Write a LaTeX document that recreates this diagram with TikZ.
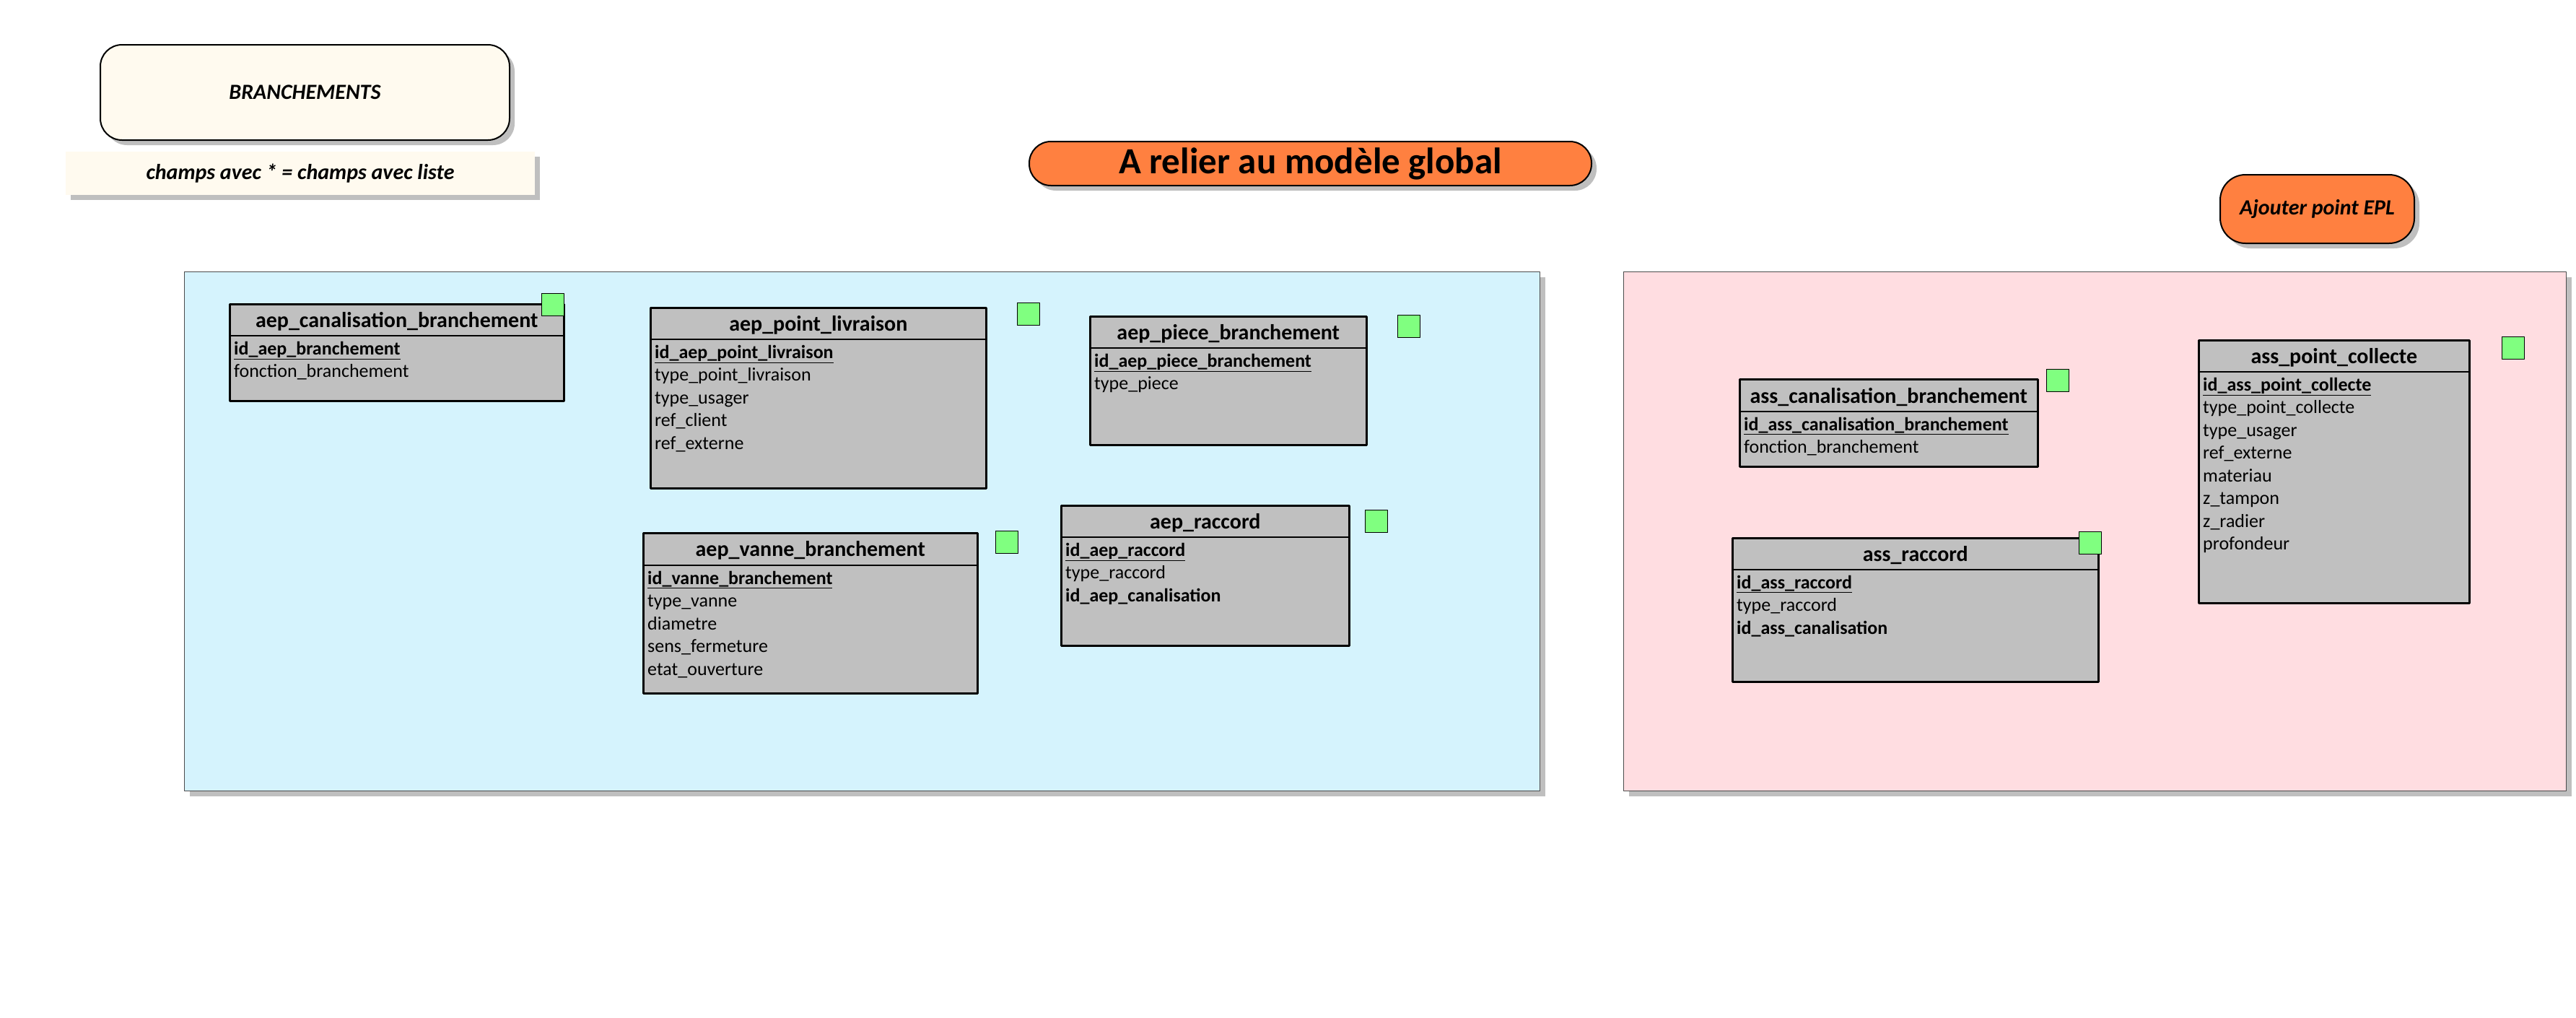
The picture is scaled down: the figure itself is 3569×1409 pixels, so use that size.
\documentclass[tikz,border=0pt]{standalone}
\usepackage{fontspec}
\setmainfont{Carlito}
\usetikzlibrary{shadows}

\definecolor{zoneaep}{HTML}{D5F3FD}
\definecolor{zoneass}{HTML}{FFDDE1}
\definecolor{tablegris}{HTML}{C0C0C0}
\definecolor{clevert}{HTML}{80FF80}
\definecolor{creme}{HTML}{FFFAEF}
\definecolor{orangemodele}{HTML}{FF8040}
\definecolor{ombre}{HTML}{BFBFBF}

\tikzset{
  ombree/.style={drop shadow={shadow xshift=7pt, shadow yshift=-7pt, fill=ombre, opacity=1}},
  zone/.style={draw=black!70, line width=1.2pt, anchor=north west, inner sep=0, ombree},
  tablebox/.style={draw, line width=2.5pt, fill=tablegris, anchor=north west, inner sep=0},
  headtext/.style={font=\fontsize{30}{35}\selectfont\bfseries},
  fieldtext/.style={anchor=north west, align=left, inner sep=0, font=\fontsize{26}{31.5}\selectfont},
  keysq/.style={draw, line width=1pt, fill=clevert, minimum size=31pt, inner sep=0, anchor=north west},
  titrebox/.style={draw, line width=2pt, inner sep=0, ombree},
}

\begin{document}
\begin{tikzpicture}[x=1pt, y=-1pt, line join=round]
  \useasboundingbox[fill=white] (0,0) rectangle (3569,1409);

  % Title boxes
  \node[titrebox, fill=creme, rounded corners=30pt, minimum width=567pt, minimum height=132pt,
        font=\fontsize{30}{36}\selectfont\bfseries\itshape] (titre) at (422.5,128) {BRANCHEMENTS};
  \node[fill=creme, inner sep=0, ombree, minimum width=650pt, minimum height=60pt,
        font=\fontsize{30}{35}\selectfont\bfseries\itshape] (legende) at (416,240) {champs avec * = champs avec liste};
  \node[titrebox, fill=orangemodele, rounded corners=30pt, minimum width=779pt, minimum height=61pt,
        font=\fontsize{51}{58}\selectfont\bfseries] (relier) at (1815.5,226.5) {A relier au modèle global};
  \node[titrebox, fill=orangemodele, rounded corners=35pt, minimum width=269pt, minimum height=95pt,
        font=\fontsize{30}{35}\selectfont\bfseries\itshape] (epl) at (3210.5,289.5) {Ajouter point EPL};

  % Zones
  \node[zone, fill=zoneaep, minimum width=1878pt, minimum height=719pt] (aep) at (255,376) {};
  \node[zone, fill=zoneass, minimum width=1306pt, minimum height=719pt] (ass) at (2249,376) {};

  % aep_canalisation_branchement
  \node[tablebox, minimum width=463pt, minimum height=134pt] (canal) at (317,420) {};
  \draw[line width=2.5pt] ([yshift=-45pt]canal.north west) -- ([yshift=-45pt]canal.north east);
  \node[headtext] at ([yshift=-25pt]canal.north) {aep\_canalisation\_branchement};
  \node[fieldtext] at ([xshift=7pt, yshift=-53pt]canal.north west)
    {\underline{\textbf{id\_aep\_branchement}}\\ fonction\_branchement};
  \node[keysq] (kcanal) at (750,406) {};

  % aep_point_livraison
  \node[tablebox, minimum width=465pt, minimum height=250pt] (plivr) at (900,425) {};
  \draw[line width=2.5pt] ([yshift=-45pt]plivr.north west) -- ([yshift=-45pt]plivr.north east);
  \node[headtext] at ([yshift=-25pt]plivr.north) {aep\_point\_livraison};
  \node[fieldtext] at ([xshift=7pt, yshift=-53pt]plivr.north west)
    {\underline{\textbf{id\_aep\_point\_livraison}}\\ type\_point\_livraison\\ type\_usager\\ ref\_client\\ ref\_externe};
  \node[keysq] (kplivr) at (1409,419) {};

  % aep_piece_branchement
  \node[tablebox, minimum width=383pt, minimum height=178pt] (piece) at (1509,437) {};
  \draw[line width=2.5pt] ([yshift=-45pt]piece.north west) -- ([yshift=-45pt]piece.north east);
  \node[headtext] at ([yshift=-25pt]piece.north) {aep\_piece\_branchement};
  \node[fieldtext] at ([xshift=7pt, yshift=-53pt]piece.north west)
    {\underline{\textbf{id\_aep\_piece\_branchement}}\\ type\_piece};
  \node[keysq] (kpiece) at (1936,436) {};

  % aep_vanne_branchement
  \node[tablebox, minimum width=463pt, minimum height=222pt] (vanne) at (890,737) {};
  \draw[line width=2.5pt] ([yshift=-46pt]vanne.north west) -- ([yshift=-46pt]vanne.north east);
  \node[headtext] at ([yshift=-25pt]vanne.north) {aep\_vanne\_branchement};
  \node[fieldtext] at ([xshift=7pt, yshift=-54pt]vanne.north west)
    {\underline{\textbf{id\_vanne\_branchement}}\\ type\_vanne\\ diametre\\ sens\_fermeture\\ etat\_ouverture};
  \node[keysq] (kvanne) at (1379,735) {};

  % aep_raccord
  \node[tablebox, minimum width=399pt, minimum height=194pt] (racc) at (1469,699) {};
  \draw[line width=2.5pt] ([yshift=-45pt]racc.north west) -- ([yshift=-45pt]racc.north east);
  \node[headtext] at ([yshift=-25pt]racc.north) {aep\_raccord};
  \node[fieldtext] at ([xshift=7pt, yshift=-53pt]racc.north west)
    {\underline{\textbf{id\_aep\_raccord}}\\ type\_raccord\\ \textbf{id\_aep\_canalisation}};
  \node[keysq] (kracc) at (1891,706) {};

  % ass_canalisation_branchement
  \node[tablebox, minimum width=413pt, minimum height=121pt] (acanal) at (2409,524) {};
  \draw[line width=2.5pt] ([yshift=-46pt]acanal.north west) -- ([yshift=-46pt]acanal.north east);
  \node[headtext] at ([yshift=-26pt]acanal.north) {ass\_canalisation\_branchement};
  \node[fieldtext] at ([xshift=7pt, yshift=-54pt]acanal.north west)
    {\underline{\textbf{id\_ass\_canalisation\_branchement}}\\ fonction\_branchement};
  \node[keysq] (kacanal) at (2835,511) {};

  % ass_raccord
  \node[tablebox, minimum width=507pt, minimum height=199pt] (aracc) at (2399,744) {};
  \draw[line width=2.5pt] ([yshift=-45pt]aracc.north west) -- ([yshift=-45pt]aracc.north east);
  \node[headtext] at ([yshift=-25pt]aracc.north) {ass\_raccord};
  \node[fieldtext] at ([xshift=7pt, yshift=-53pt]aracc.north west)
    {\underline{\textbf{id\_ass\_raccord}}\\ type\_raccord\\ \textbf{id\_ass\_canalisation}};
  \node[keysq] (karacc) at (2880,736) {};

  % ass_point_collecte
  \node[tablebox, minimum width=375pt, minimum height=364pt] (collecte) at (3045,470) {};
  \draw[line width=2.5pt] ([yshift=-45pt]collecte.north west) -- ([yshift=-45pt]collecte.north east);
  \node[headtext] at ([yshift=-25pt]collecte.north) {ass\_point\_collecte};
  \node[fieldtext] at ([xshift=7pt, yshift=-53pt]collecte.north west)
    {\underline{\textbf{id\_ass\_point\_collecte}}\\ type\_point\_collecte\\ type\_usager\\ ref\_externe\\
     materiau\\ z\_tampon\\ z\_radier\\ profondeur};
  \node[keysq] (kcollecte) at (3466,466) {};
\end{tikzpicture}
\end{document}
